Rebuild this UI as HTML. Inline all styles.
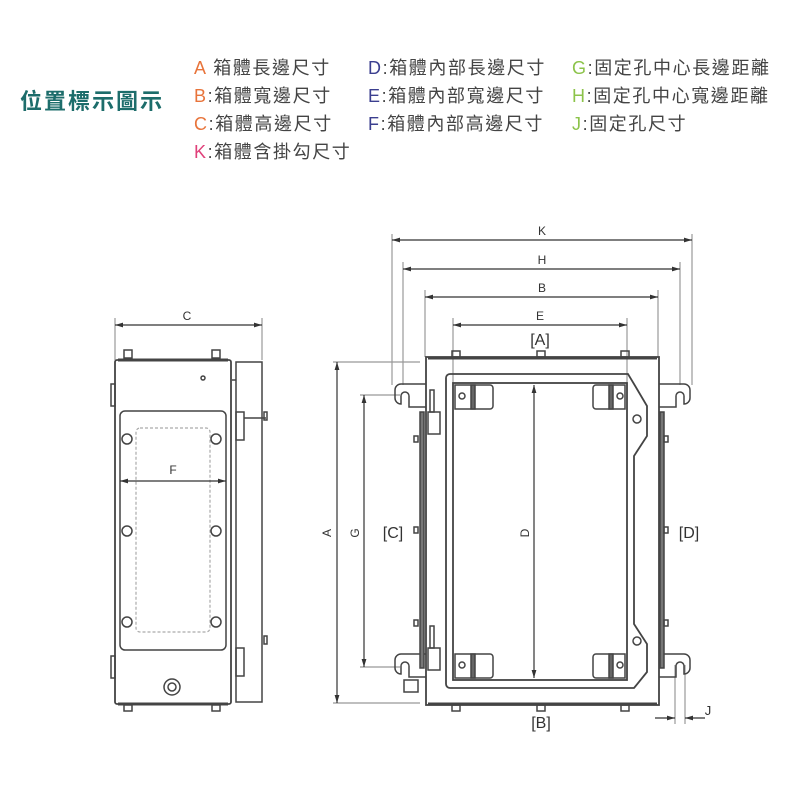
<!DOCTYPE html>
<html><head><meta charset="utf-8"><style>
html,body{margin:0;padding:0;background:#fff;}
svg{display:block;}
.t{font-family:"Liberation Sans","Noto Sans CJK TC",sans-serif;}
</style></head><body>
<svg width="800" height="800" viewBox="0 0 800 800" xmlns="http://www.w3.org/2000/svg">
<defs>
<marker id="ar" viewBox="0 0 10 6" refX="10" refY="3" markerWidth="8" markerHeight="4" orient="auto-start-reverse"><path d="M0,0 L10,3 L0,6 z" fill="#333"/></marker>
</defs>
<!-- Header -->
<text class="t" x="20" y="109" font-size="22" font-weight="bold" fill="#1d6d6b" letter-spacing="2">位置標示圖示</text>
<g class="t" font-size="18" fill="#444" letter-spacing="1.6">
<text x="194" y="74"><tspan fill="#e8743b">A</tspan> 箱體長邊尺寸</text>
<text x="194" y="102"><tspan fill="#e8743b">B</tspan>:箱體寬邊尺寸</text>
<text x="194" y="130"><tspan fill="#e8743b">C</tspan>:箱體高邊尺寸</text>
<text x="194" y="158"><tspan fill="#e0407a">K</tspan>:箱體含掛勾尺寸</text>
<text x="368" y="74"><tspan fill="#3b3f8f">D</tspan>:箱體內部長邊尺寸</text>
<text x="368" y="102"><tspan fill="#3b3f8f">E</tspan>:箱體內部寬邊尺寸</text>
<text x="368" y="130"><tspan fill="#3b3f8f">F</tspan>:箱體內部高邊尺寸</text>
<text x="572" y="74"><tspan fill="#8cc34a">G</tspan>:固定孔中心長邊距離</text>
<text x="572" y="102"><tspan fill="#8cc34a">H</tspan>:固定孔中心寬邊距離</text>
<text x="572" y="130"><tspan fill="#8cc34a">J</tspan>:固定孔尺寸</text>
</g>

<g fill="none" stroke="#444" stroke-width="1.5">
<!-- LEFT VIEW -->
<line x1="115" y1="318" x2="115" y2="360" stroke="#999" stroke-width="1.2"/>
<line x1="262" y1="318" x2="262" y2="360" stroke="#999" stroke-width="1.2"/>
<line x1="115" y1="325" x2="262" y2="325" stroke="#333" stroke-width="1.2" marker-start="url(#ar)" marker-end="url(#ar)"/>
<rect x="115" y="360" width="116" height="344" rx="2" stroke-width="1.8"/>
<line x1="118" y1="360" x2="228" y2="360" stroke-width="3"/>
<line x1="118" y1="704" x2="228" y2="704" stroke-width="3"/>
<rect x="124" y="350" width="8" height="8"/><rect x="212" y="350" width="8" height="8"/>
<rect x="124" y="705" width="8" height="6"/><rect x="212" y="705" width="8" height="6"/>
<rect x="111" y="384" width="4" height="22"/><rect x="111" y="656" width="4" height="22"/>
<rect x="236" y="362" width="26" height="340"/>
<line x1="232" y1="380" x2="236" y2="380"/>
<rect x="236" y="412" width="8" height="28"/><line x1="244" y1="418" x2="266" y2="418"/>
<rect x="236" y="648" width="8" height="28"/>
<rect x="264" y="412" width="3" height="8"/><rect x="264" y="636" width="3" height="8"/>
<rect x="120" y="411" width="106" height="239" rx="5"/>
<rect x="136" y="428" width="74" height="204" rx="4" stroke="#aaa" stroke-width="1.2" stroke-dasharray="3,2"/>
<circle cx="127" cy="439" r="5"/><circle cx="216" cy="439" r="5"/>
<circle cx="127" cy="531" r="5"/><circle cx="216" cy="531" r="5"/>
<circle cx="127" cy="622" r="5"/><circle cx="216" cy="622" r="5"/>
<line x1="120" y1="481" x2="226" y2="481" stroke="#333" stroke-width="1.2" marker-start="url(#ar)" marker-end="url(#ar)"/>
<circle cx="172" cy="687" r="8"/><circle cx="172" cy="687" r="4"/>
<circle cx="203" cy="378" r="2"/>

<!-- RIGHT VIEW dimension lines -->
<g stroke-width="1.2">
<line x1="392" y1="234" x2="392" y2="385" stroke="#999"/>
<line x1="692" y1="234" x2="692" y2="385" stroke="#999"/>
<line x1="403" y1="262" x2="403" y2="385" stroke="#999"/>
<line x1="680" y1="262" x2="680" y2="385" stroke="#999"/>
<line x1="425" y1="290" x2="425" y2="357" stroke="#999"/>
<line x1="658" y1="290" x2="658" y2="357" stroke="#999"/>
<line x1="453" y1="318" x2="453" y2="390" stroke="#999"/>
<line x1="627" y1="318" x2="627" y2="390" stroke="#999"/>
<line x1="392" y1="240" x2="692" y2="240" stroke="#333" marker-start="url(#ar)" marker-end="url(#ar)"/>
<line x1="403" y1="269" x2="680" y2="269" stroke="#333" marker-start="url(#ar)" marker-end="url(#ar)"/>
<line x1="425" y1="297" x2="658" y2="297" stroke="#333" marker-start="url(#ar)" marker-end="url(#ar)"/>
<line x1="453" y1="325" x2="627" y2="325" stroke="#333" marker-start="url(#ar)" marker-end="url(#ar)"/>
<line x1="333" y1="362" x2="420" y2="362" stroke="#999"/>
<line x1="333" y1="703" x2="420" y2="703" stroke="#999"/>
<line x1="360" y1="395" x2="400" y2="395" stroke="#999"/>
<line x1="360" y1="667" x2="400" y2="667" stroke="#999"/>
<line x1="337" y1="362" x2="337" y2="703" stroke="#333" marker-start="url(#ar)" marker-end="url(#ar)"/>
<line x1="364" y1="395" x2="364" y2="667" stroke="#333" marker-start="url(#ar)" marker-end="url(#ar)"/>
<line x1="675" y1="665" x2="675" y2="724" stroke="#999"/>
<line x1="685" y1="665" x2="685" y2="724" stroke="#999"/>
<line x1="655" y1="718" x2="675" y2="718" stroke="#333" marker-end="url(#ar)"/>
<line x1="705" y1="718" x2="685" y2="718" stroke="#333" marker-end="url(#ar)"/>
</g>

<!-- body -->
<rect x="426" y="357" width="233" height="348" stroke-width="1.8"/>
<line x1="428" y1="358" x2="657" y2="358" stroke-width="3"/>
<line x1="428" y1="704" x2="657" y2="704" stroke-width="3"/>
<rect x="452" y="351" width="8" height="6"/><rect x="537" y="351" width="8" height="6"/><rect x="621" y="351" width="8" height="6"/>
<rect x="452" y="705" width="8" height="6"/><rect x="537" y="705" width="8" height="6"/><rect x="621" y="705" width="8" height="6"/>
<!-- ears -->
<path d="M426,407 H409 V396 a4,4 0 0 0 -8,0 V404 a6,6 0 0 1 -6,-6 V390 a6,6 0 0 1 6,-6 H426"/>
<path d="M659,407 H676 V396 a4,4 0 0 1 8,0 V404 a6,6 0 0 0 6,-6 V390 a6,6 0 0 0 -6,-6 H659"/>
<path d="M426,677 H409 V666 a4,4 0 0 0 -8,0 V674 a6,6 0 0 1 -6,-6 V660 a6,6 0 0 1 6,-6 H426"/>
<path d="M659,677 H676 V666 a4,4 0 0 1 8,0 V674 a6,6 0 0 0 6,-6 V660 a6,6 0 0 0 -6,-6 H659"/>
<!-- side rails -->
<rect x="420" y="412" width="4" height="256" fill="#777"/>
<rect x="660" y="412" width="4" height="256" fill="#777"/>
<rect x="428" y="412" width="12" height="22"/><rect x="430" y="390" width="4" height="22"/>
<rect x="428" y="648" width="12" height="22"/><rect x="430" y="626" width="4" height="22"/>
<rect x="404" y="680" width="14" height="12"/>
<rect x="414" y="436" width="4" height="6"/><rect x="414" y="527" width="4" height="6"/><rect x="414" y="620" width="4" height="6"/>
<rect x="664" y="436" width="4" height="6"/><rect x="664" y="527" width="4" height="6"/><rect x="664" y="620" width="4" height="6"/>
<!-- door frame -->
<path d="M446,378 a4,4 0 0 1 4,-4 H628 L634,384 L647,406 V436 L634,456 V624 L647,644 V672 L634,688 H450 a4,4 0 0 1 -4,-4 Z" stroke-width="1.8"/>
<rect x="453" y="383" width="174" height="297" stroke-width="1.8"/>
<circle cx="637" cy="419" r="4"/><circle cx="637" cy="641" r="4"/>
<!-- brackets -->
<path d="M455,385 H490 a3,3 0 0 1 3,3 V406 a3,3 0 0 1 -3,3 H455 Z"/><rect x="471" y="385" width="4" height="24" fill="#666"/><circle cx="462" cy="396" r="3"/>
<path d="M625,385 H596 a3,3 0 0 0 -3,3 V406 a3,3 0 0 0 3,3 H625 Z"/><rect x="609" y="385" width="4" height="24" fill="#666"/><circle cx="620" cy="396" r="3"/>
<path d="M455,654 H490 a3,3 0 0 1 3,3 V675 a3,3 0 0 1 -3,3 H455 Z"/><rect x="471" y="654" width="4" height="24" fill="#666"/><circle cx="462" cy="665" r="3"/>
<path d="M625,654 H596 a3,3 0 0 0 -3,3 V675 a3,3 0 0 0 3,3 H625 Z"/><rect x="609" y="654" width="4" height="24" fill="#666"/><circle cx="620" cy="665" r="3"/>
<line x1="534" y1="385" x2="534" y2="678" stroke="#333" stroke-width="1.2" marker-start="url(#ar)" marker-end="url(#ar)"/>
</g>

<g class="t" fill="#333" font-size="12" text-anchor="middle">
<text x="187" y="320">C</text>
<text x="173" y="474">F</text>
<text x="542" y="235">K</text>
<text x="542" y="264">H</text>
<text x="542" y="292">B</text>
<text x="540" y="320">E</text>
<text x="540" y="345" font-size="16">[A]</text>
<text x="541" y="728" font-size="16">[B]</text>
<text x="393" y="538" font-size="16">[C]</text>
<text x="689" y="538" font-size="16">[D]</text>
<text x="708" y="715" font-size="13">J</text>
<text transform="translate(331,533) rotate(-90)" x="0" y="0">A</text>
<text transform="translate(359,533) rotate(-90)" x="0" y="0">G</text>
<text transform="translate(529,533) rotate(-90)" x="0" y="0">D</text>
</g>
</svg>
</body></html>
